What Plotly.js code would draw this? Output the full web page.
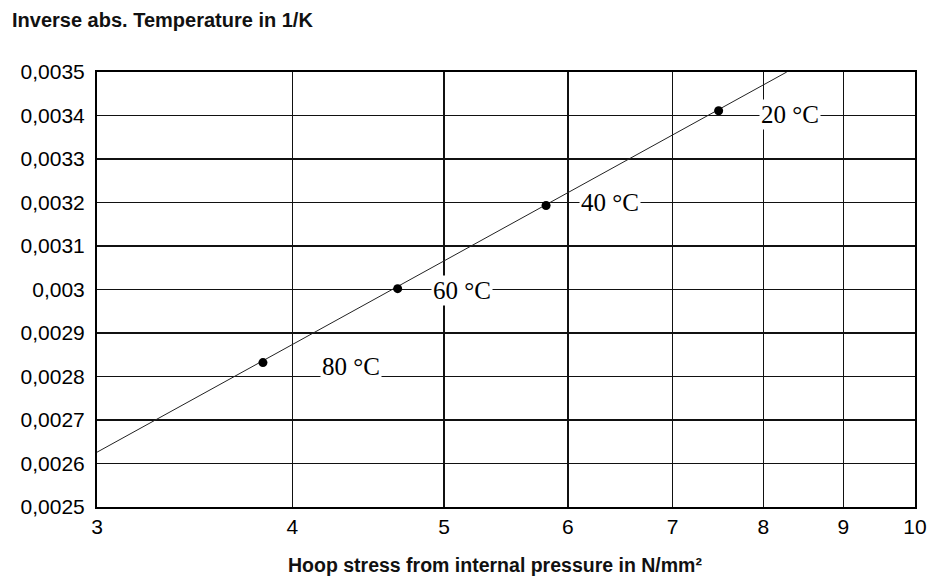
<!DOCTYPE html>
<html>
<head>
<meta charset="utf-8">
<script src="https://cdn.plot.ly/plotly-3.0.1.min.js"></script>
<style>
  html, body { margin: 0; padding: 0; background: #fff; }
  #chart { width: 928px; height: 579px; }
</style>
</head>
<body>
<div id="chart"></div>
<script>
// Measured points (hoop stress in N/mm², inverse abs. temperature in 1/K)
var pointStress = [3.83, 4.67, 5.81, 7.49];
var pointInvTemp = [0.002832, 0.003002, 0.003193, 0.003411];
var pointLabels = ['80 °C', '60 °C', '40 °C', '20 °C'];

// Label anchor positions
var labelStress = [4.36, 5.13, 6.38, 8.32];
var labelInvTemp = [0.002822, 0.002998, 0.003199, 0.003403];

// Regression line end points
var lineStress = [3, 8.28];
var lineInvTemp = [0.002626, 0.0035];

// Tick values and labels
var xTickVals = [3, 4, 5, 6, 7, 8, 9, 10];
var xTickText = ['3', '4', '5', '6', '7', '8', '9', '10'];
var yTickVals = [0.0025, 0.0026, 0.0027, 0.0028, 0.0029, 0.003, 0.0031, 0.0032, 0.0033, 0.0034, 0.0035];
var yTickText = ['0,0025', '0,0026', '0,0027', '0,0028', '0,0029', '0,003', '0,0031', '0,0032', '0,0033', '0,0034', '0,0035'];

var xTitle = 'Hoop stress from internal pressure in N/mm²';
var yTitle = 'Inverse abs. Temperature in 1/K';

var traces = [
  {
    x: lineStress, y: lineInvTemp, type: 'scatter', mode: 'lines',
    line: { color: '#222', width: 1 }, hoverinfo: 'skip', showlegend: false
  },
  {
    x: pointStress, y: pointInvTemp, type: 'scatter', mode: 'markers',
    marker: { color: '#000', size: 9 }, text: pointLabels, showlegend: false
  }
];

var annotations = pointLabels.map(function (t, i) {
  return {
    x: Math.log10(labelStress[i]), y: labelInvTemp[i], xref: 'x', yref: 'y',
    text: t, showarrow: false, bgcolor: '#fff', borderpad: 1,
    font: { family: 'Liberation Serif, serif', size: 25, color: '#000' },
    xanchor: 'center', yanchor: 'middle'
  };
});

// x-axis title placed as paper annotation (centre slightly left of plot centre, as in the original)
annotations.push({
  x: (495 - 97) / 818, y: -(565 - 507) / 435, xref: 'paper', yref: 'paper',
  text: xTitle, showarrow: false, xanchor: 'center', yanchor: 'middle',
  font: { family: 'Liberation Sans, Arial, sans-serif', size: 19.5, weight: 'bold', color: '#111' }
});

var layout = {
  width: 928, height: 579,
  margin: { l: 97, r: 13, t: 72, b: 72 },
  paper_bgcolor: '#fff', plot_bgcolor: '#fff',
  showlegend: false,
  font: { family: 'Liberation Sans, Arial, sans-serif', color: '#000' },
  title: {
    text: yTitle,
    x: 12 / 928, xanchor: 'left', xref: 'container',
    y: 1 - 20 / 579, yanchor: 'middle', yref: 'container',
    font: { family: 'Liberation Sans, Arial, sans-serif', size: 20, weight: 'bold', color: '#111' }
  },
  xaxis: {
    type: 'log',
    range: [Math.log10(3), Math.log10(10)],
    tickvals: xTickVals, ticktext: xTickText,
    ticks: '', tickfont: { size: 21, color: '#000' },
    showgrid: true, gridcolor: '#111', gridwidth: 1.6,
    showline: true, linecolor: '#000', linewidth: 2, mirror: true,
    zeroline: false
  },
  yaxis: {
    range: [0.0025, 0.0035],
    tickvals: yTickVals, ticktext: yTickText,
    ticks: '', tickfont: { size: 21, color: '#000' },
    ticklabelstandoff: 6,
    showgrid: true, gridcolor: '#111', gridwidth: 1.6,
    showline: true, linecolor: '#000', linewidth: 2, mirror: true,
    zeroline: false
  },
  annotations: annotations
};

Plotly.newPlot('chart', traces, layout, { displayModeBar: false, staticPlot: true });
</script>
</body>
</html>
